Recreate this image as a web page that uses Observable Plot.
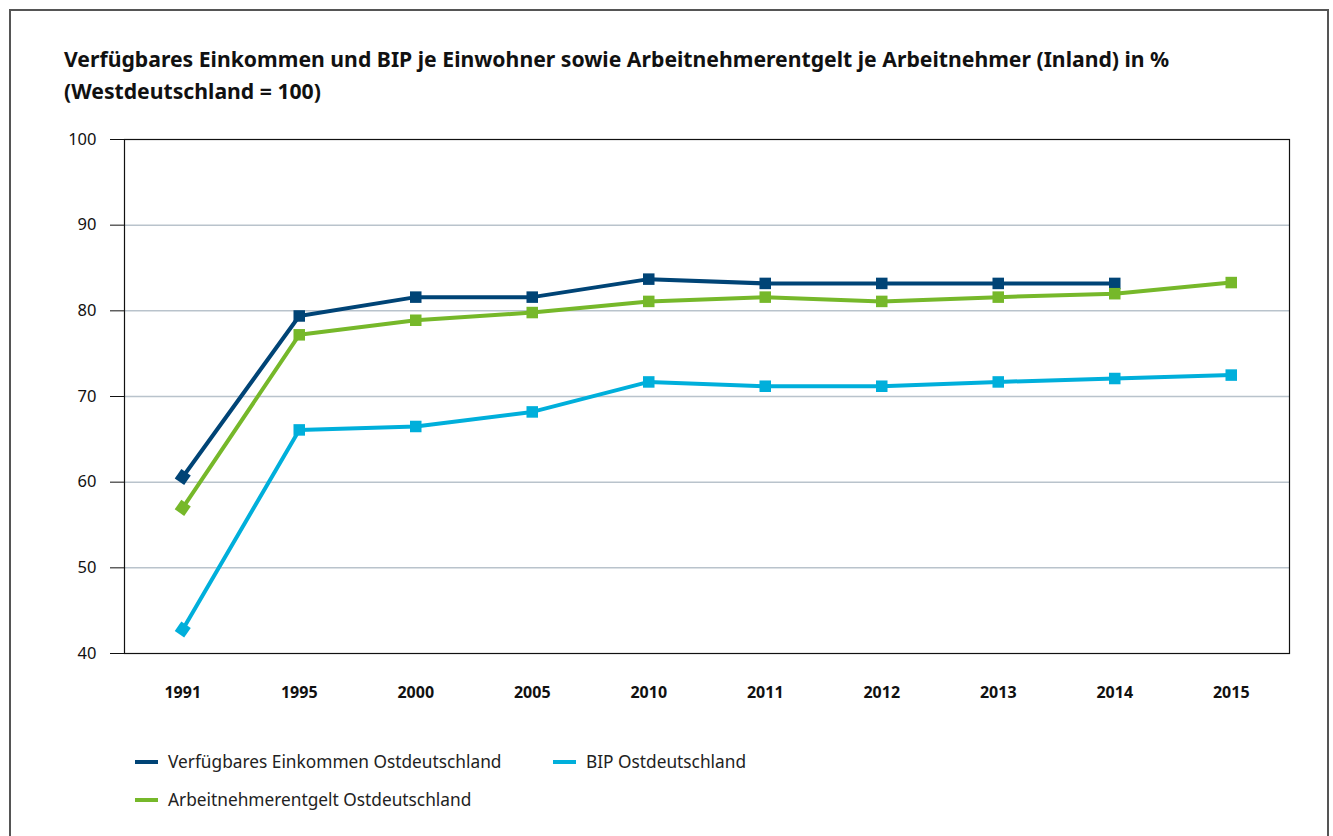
<!DOCTYPE html>
<html>
<head>
<meta charset="utf-8">
<script src="https://cdn.jsdelivr.net/npm/d3@7"></script>
<script src="https://cdn.jsdelivr.net/npm/@observablehq/plot@0.6"></script>
<style>
  html, body { margin: 0; padding: 0; background: #fff; width: 1333px; height: 836px; overflow: hidden; }
  body { position: relative; font-family: "Noto Sans", "Open Sans", sans-serif; color: #111; }
  #border { position: absolute; left: 9px; top: 9px; width: 1320px; height: 900px; border: 2px solid #555; box-sizing: border-box; }
  #title { position: absolute; left: 64px; top: 43px; font-size: 21.2px; font-weight: 700; line-height: 32px; color: #111; white-space: nowrap; }
  #chart { position: absolute; left: 0; top: 120px; }
  .legend { position: absolute; font-size: 17.3px; color: #222; white-space: nowrap; display: flex; align-items: center; }
  .legend .sw { display: inline-block; width: 23px; height: 4px; margin-right: 10px; }
</style>
</head>
<body>
<div id="border"></div>
<div id="title">Verfügbares Einkommen und BIP je Einwohner sowie Arbeitnehmerentgelt je Arbeitnehmer (Inland) in %<br>(Westdeutschland = 100)</div>
<div id="chart"></div>
<div id="legend"></div>
<script>
const years = ["1991", "1995", "2000", "2005", "2010", "2011", "2012", "2013", "2014", "2015"];
const einkommen = [60.6, 79.4, 81.6, 81.6, 83.7, 83.2, 83.2, 83.2, 83.2, null];
const bip = [42.8, 66.1, 66.5, 68.2, 71.7, 71.2, 71.2, 71.7, 72.1, 72.5];
const entgelt = [57.0, 77.2, 78.9, 79.8, 81.1, 81.6, 81.1, 81.6, 82.0, 83.3];
const seriesNames = ["Verfügbares Einkommen Ostdeutschland", "BIP Ostdeutschland", "Arbeitnehmerentgelt Ostdeutschland"];
const seriesColors = ["#004476", "#00afdb", "#76b82a"];
const yTicks = [40, 50, 60, 70, 80, 90, 100];

const seriesValues = [einkommen, bip, entgelt];
const data = [];
seriesNames.forEach((name, si) => {
  years.forEach((yr, i) => {
    if (seriesValues[si][i] != null) data.push({series: name, year: yr, value: seriesValues[si][i]});
  });
});

const chart = Plot.plot({
  width: 1333,
  height: 600,
  marginLeft: 124,
  marginRight: 44,
  marginTop: 19,
  marginBottom: 67,
  style: {fontFamily: "'Noto Sans', 'Open Sans', sans-serif", fontSize: "16px", color: "#111", background: "transparent"},
  x: {type: "band", domain: years, padding: 0, round: false, label: null},
  y: {domain: [40, 100], label: null},
  color: {domain: seriesNames, range: seriesColors},
  marks: [
    Plot.gridY([50, 60, 70, 80, 90], {stroke: "#b9c3cc", strokeOpacity: 1, strokeWidth: 1.5}),
    Plot.frame({stroke: "#111", strokeWidth: 1.2}),
    Plot.axisY({ticks: yTicks, tickSize: 14, tickPadding: 14, stroke: "#111", fontSize: 16.5, label: null}),
    Plot.axisX({tickSize: 0, tickPadding: 33, fontSize: 16, fontWeight: "bold", label: null}),
    Plot.line(data, {x: "year", y: "value", z: "series", stroke: "series", strokeWidth: 4, strokeLinejoin: "miter"}),
    Plot.dot(data, {x: "year", y: "value", fill: "series", symbol: "square", r: 6.5, rotate: d => d.year === "1991" ? 35 : 0})
  ]
});
chart.querySelectorAll('g[aria-label="x-axis tick label"] text').forEach(t => t.setAttribute("font-weight", "bold"));
document.getElementById("chart").appendChild(chart);

const legendPos = [
  {left: 135, top: 750},
  {left: 553, top: 750},
  {left: 135, top: 788}
];
const leg = document.getElementById("legend");
seriesNames.forEach((name, i) => {
  const d = document.createElement("div");
  d.className = "legend";
  d.style.left = legendPos[i].left + "px";
  d.style.top = legendPos[i].top + "px";
  const sw = document.createElement("span");
  sw.className = "sw";
  sw.style.background = seriesColors[i];
  d.appendChild(sw);
  d.appendChild(document.createTextNode(name));
  leg.appendChild(d);
});
</script>
</body>
</html>
